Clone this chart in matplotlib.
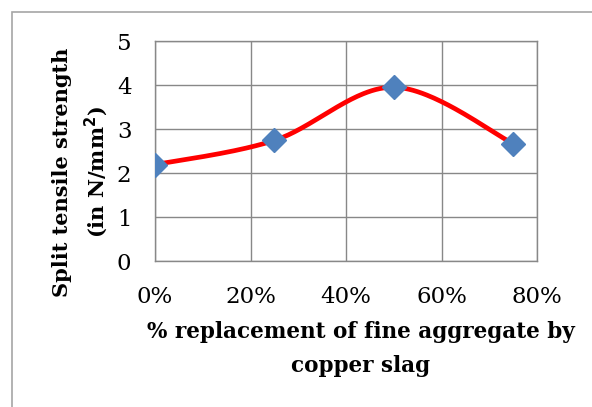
import numpy as np
import matplotlib.pyplot as plt
from matplotlib.patches import Rectangle

replacement = [0.0, 0.25, 0.50, 0.75]
strength = [2.19, 2.74, 3.95, 2.67]
xticks = [0.0, 0.2, 0.4, 0.6, 0.8]
xticklabels = ["0%", "20%", "40%", "60%", "80%"]
yticks = [0, 1, 2, 3, 4, 5]

plt.rcParams['font.family'] = ['DejaVu Serif']


def smooth_curve(xs, ys, n=60):
    # Excel style smoothed line: cubic bezier with catmull-rom control points
    p = np.column_stack([xs, ys])
    out = []
    for i in range(len(p) - 1):
        p0 = p[i - 1] if i > 0 else p[i]
        p1 = p[i]
        p2 = p[i + 1]
        p3 = p[i + 2] if i + 2 < len(p) else p[i + 1]
        c1 = p1 + (p2 - p0) / 6
        c2 = p2 - (p3 - p1) / 6
        t = np.linspace(0, 1, n)[:, None]
        seg = ((1 - t) ** 3) * p1 + 3 * ((1 - t) ** 2) * t * c1 + 3 * (1 - t) * t ** 2 * c2 + t ** 3 * p2
        out.append(seg)
    c = np.vstack(out)
    return c[:, 0], c[:, 1]


fig = plt.figure(figsize=(5.92, 4.07), dpi=100)
fig.patches.append(Rectangle((12 / 592, -0.1), 1.2, (407 - 12) / 407 + 0.1,
                             transform=fig.transFigure, fill=False,
                             edgecolor='#a6a6a6', lw=1.2))

ax = fig.add_axes([155 / 592, 146 / 407, 382 / 592, 220 / 407])
sx, sy = smooth_curve(replacement, strength)
ax.plot(sx, sy, color='#ff0000', lw=3.4, solid_capstyle='round', zorder=3)
ax.plot(replacement, strength, ls='none', marker='D', color='#4f81bd',
        markersize=12, zorder=4)

ax.set_xlim(0, 0.8)
ax.set_ylim(0, 5)
ax.set_xticks(xticks)
ax.set_xticklabels(xticklabels)
ax.set_yticks(yticks)
ax.grid(True, color='#888888', lw=1)
for s in ax.spines.values():
    s.set_color('#888888')
    s.set_linewidth(1)
ax.tick_params(length=0, labelsize=16.5)
ax.tick_params(axis='x', pad=18)
ax.tick_params(axis='y', pad=17)

fig.text(361 / 592, 1 - 349 / 407, "% replacement of fine aggregate by\ncopper slag",
         ha='center', va='center', fontsize=15.5, fontweight='bold', linespacing=1.65)
fig.text(81 / 592, 1 - 172 / 407, "Split tensile strength\n(in N/mm$^\\mathbf{2}$)",
         ha='center', va='center', rotation=90, fontsize=15, fontweight='bold',
         linespacing=1.5)

fig.savefig("out.png", dpi=100)
